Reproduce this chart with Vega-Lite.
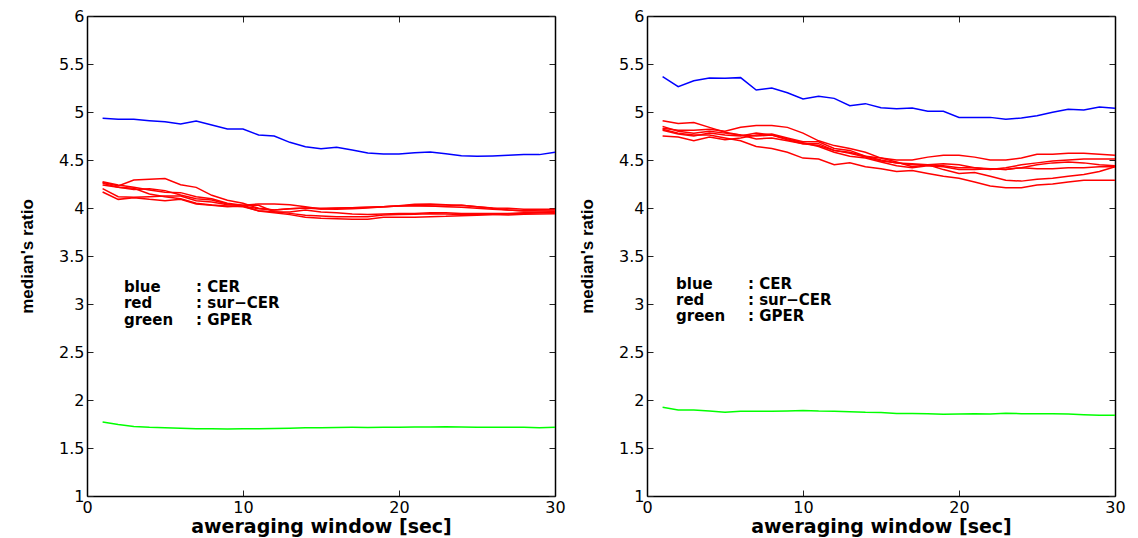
{
"$schema": "https://vega.github.io/schema/vega-lite/v6.json",
"padding": {"left": 18, "top": 8, "right": 5, "bottom": 2},
"spacing": 12,
"datasets": {
"lines": [
{"p":"L","s":"b","c":"CER","x":1,"y":4.934},{"p":"L","s":"b","c":"CER","x":2,"y":4.924},{"p":"L","s":"b","c":"CER","x":3,"y":4.924},{"p":"L","s":"b","c":"CER","x":4,"y":4.910},{"p":"L","s":"b","c":"CER","x":5,"y":4.899},{"p":"L","s":"b","c":"CER","x":6,"y":4.875},{"p":"L","s":"b","c":"CER","x":7,"y":4.906},{"p":"L","s":"b","c":"CER","x":8,"y":4.865},{"p":"L","s":"b","c":"CER","x":9,"y":4.823},{"p":"L","s":"b","c":"CER","x":10,"y":4.823},{"p":"L","s":"b","c":"CER","x":11,"y":4.760},{"p":"L","s":"b","c":"CER","x":12,"y":4.750},{"p":"L","s":"b","c":"CER","x":13,"y":4.684},{"p":"L","s":"b","c":"CER","x":14,"y":4.639},{"p":"L","s":"b","c":"CER","x":15,"y":4.618},{"p":"L","s":"b","c":"CER","x":16,"y":4.632},{"p":"L","s":"b","c":"CER","x":17,"y":4.604},{"p":"L","s":"b","c":"CER","x":18,"y":4.573},{"p":"L","s":"b","c":"CER","x":19,"y":4.562},{"p":"L","s":"b","c":"CER","x":20,"y":4.562},{"p":"L","s":"b","c":"CER","x":21,"y":4.576},{"p":"L","s":"b","c":"CER","x":22,"y":4.583},{"p":"L","s":"b","c":"CER","x":23,"y":4.566},{"p":"L","s":"b","c":"CER","x":24,"y":4.545},{"p":"L","s":"b","c":"CER","x":25,"y":4.538},{"p":"L","s":"b","c":"CER","x":26,"y":4.542},{"p":"L","s":"b","c":"CER","x":27,"y":4.549},{"p":"L","s":"b","c":"CER","x":28,"y":4.556},{"p":"L","s":"b","c":"CER","x":29,"y":4.556},{"p":"L","s":"b","c":"CER","x":30,"y":4.580},
{"p":"L","s":"g","c":"GPER","x":1,"y":1.770},{"p":"L","s":"g","c":"GPER","x":2,"y":1.745},{"p":"L","s":"g","c":"GPER","x":3,"y":1.725},{"p":"L","s":"g","c":"GPER","x":4,"y":1.715},{"p":"L","s":"g","c":"GPER","x":5,"y":1.710},{"p":"L","s":"g","c":"GPER","x":6,"y":1.705},{"p":"L","s":"g","c":"GPER","x":7,"y":1.700},{"p":"L","s":"g","c":"GPER","x":8,"y":1.700},{"p":"L","s":"g","c":"GPER","x":9,"y":1.698},{"p":"L","s":"g","c":"GPER","x":10,"y":1.700},{"p":"L","s":"g","c":"GPER","x":11,"y":1.700},{"p":"L","s":"g","c":"GPER","x":12,"y":1.702},{"p":"L","s":"g","c":"GPER","x":13,"y":1.705},{"p":"L","s":"g","c":"GPER","x":14,"y":1.710},{"p":"L","s":"g","c":"GPER","x":15,"y":1.712},{"p":"L","s":"g","c":"GPER","x":16,"y":1.714},{"p":"L","s":"g","c":"GPER","x":17,"y":1.715},{"p":"L","s":"g","c":"GPER","x":18,"y":1.714},{"p":"L","s":"g","c":"GPER","x":19,"y":1.715},{"p":"L","s":"g","c":"GPER","x":20,"y":1.716},{"p":"L","s":"g","c":"GPER","x":21,"y":1.718},{"p":"L","s":"g","c":"GPER","x":22,"y":1.720},{"p":"L","s":"g","c":"GPER","x":23,"y":1.722},{"p":"L","s":"g","c":"GPER","x":24,"y":1.720},{"p":"L","s":"g","c":"GPER","x":25,"y":1.716},{"p":"L","s":"g","c":"GPER","x":26,"y":1.716},{"p":"L","s":"g","c":"GPER","x":27,"y":1.716},{"p":"L","s":"g","c":"GPER","x":28,"y":1.715},{"p":"L","s":"g","c":"GPER","x":29,"y":1.712},{"p":"L","s":"g","c":"GPER","x":30,"y":1.715},
{"p":"L","s":"r1","c":"sur-CER","x":1,"y":4.267},{"p":"L","s":"r1","c":"sur-CER","x":2,"y":4.229},{"p":"L","s":"r1","c":"sur-CER","x":3,"y":4.292},{"p":"L","s":"r1","c":"sur-CER","x":4,"y":4.299},{"p":"L","s":"r1","c":"sur-CER","x":5,"y":4.306},{"p":"L","s":"r1","c":"sur-CER","x":6,"y":4.243},{"p":"L","s":"r1","c":"sur-CER","x":7,"y":4.215},{"p":"L","s":"r1","c":"sur-CER","x":8,"y":4.132},{"p":"L","s":"r1","c":"sur-CER","x":9,"y":4.080},{"p":"L","s":"r1","c":"sur-CER","x":10,"y":4.049},{"p":"L","s":"r1","c":"sur-CER","x":11,"y":3.997},{"p":"L","s":"r1","c":"sur-CER","x":12,"y":3.979},{"p":"L","s":"r1","c":"sur-CER","x":13,"y":3.993},{"p":"L","s":"r1","c":"sur-CER","x":14,"y":4.000},{"p":"L","s":"r1","c":"sur-CER","x":15,"y":3.990},{"p":"L","s":"r1","c":"sur-CER","x":16,"y":3.997},{"p":"L","s":"r1","c":"sur-CER","x":17,"y":4.003},{"p":"L","s":"r1","c":"sur-CER","x":18,"y":4.007},{"p":"L","s":"r1","c":"sur-CER","x":19,"y":4.014},{"p":"L","s":"r1","c":"sur-CER","x":20,"y":4.024},{"p":"L","s":"r1","c":"sur-CER","x":21,"y":4.038},{"p":"L","s":"r1","c":"sur-CER","x":22,"y":4.042},{"p":"L","s":"r1","c":"sur-CER","x":23,"y":4.035},{"p":"L","s":"r1","c":"sur-CER","x":24,"y":4.028},{"p":"L","s":"r1","c":"sur-CER","x":25,"y":4.014},{"p":"L","s":"r1","c":"sur-CER","x":26,"y":4.000},{"p":"L","s":"r1","c":"sur-CER","x":27,"y":3.997},{"p":"L","s":"r1","c":"sur-CER","x":28,"y":3.986},{"p":"L","s":"r1","c":"sur-CER","x":29,"y":3.986},{"p":"L","s":"r1","c":"sur-CER","x":30,"y":3.986},
{"p":"L","s":"r2","c":"sur-CER","x":1,"y":4.274},{"p":"L","s":"r2","c":"sur-CER","x":2,"y":4.240},{"p":"L","s":"r2","c":"sur-CER","x":3,"y":4.215},{"p":"L","s":"r2","c":"sur-CER","x":4,"y":4.188},{"p":"L","s":"r2","c":"sur-CER","x":5,"y":4.163},{"p":"L","s":"r2","c":"sur-CER","x":6,"y":4.160},{"p":"L","s":"r2","c":"sur-CER","x":7,"y":4.118},{"p":"L","s":"r2","c":"sur-CER","x":8,"y":4.097},{"p":"L","s":"r2","c":"sur-CER","x":9,"y":4.049},{"p":"L","s":"r2","c":"sur-CER","x":10,"y":4.028},{"p":"L","s":"r2","c":"sur-CER","x":11,"y":4.042},{"p":"L","s":"r2","c":"sur-CER","x":12,"y":4.042},{"p":"L","s":"r2","c":"sur-CER","x":13,"y":4.035},{"p":"L","s":"r2","c":"sur-CER","x":14,"y":4.014},{"p":"L","s":"r2","c":"sur-CER","x":15,"y":3.990},{"p":"L","s":"r2","c":"sur-CER","x":16,"y":3.986},{"p":"L","s":"r2","c":"sur-CER","x":17,"y":3.993},{"p":"L","s":"r2","c":"sur-CER","x":18,"y":4.000},{"p":"L","s":"r2","c":"sur-CER","x":19,"y":4.014},{"p":"L","s":"r2","c":"sur-CER","x":20,"y":4.021},{"p":"L","s":"r2","c":"sur-CER","x":21,"y":4.021},{"p":"L","s":"r2","c":"sur-CER","x":22,"y":4.021},{"p":"L","s":"r2","c":"sur-CER","x":23,"y":4.021},{"p":"L","s":"r2","c":"sur-CER","x":24,"y":4.028},{"p":"L","s":"r2","c":"sur-CER","x":25,"y":4.014},{"p":"L","s":"r2","c":"sur-CER","x":26,"y":3.997},{"p":"L","s":"r2","c":"sur-CER","x":27,"y":3.979},{"p":"L","s":"r2","c":"sur-CER","x":28,"y":3.969},{"p":"L","s":"r2","c":"sur-CER","x":29,"y":3.969},{"p":"L","s":"r2","c":"sur-CER","x":30,"y":3.965},
{"p":"L","s":"r3","c":"sur-CER","x":1,"y":4.257},{"p":"L","s":"r3","c":"sur-CER","x":2,"y":4.215},{"p":"L","s":"r3","c":"sur-CER","x":3,"y":4.194},{"p":"L","s":"r3","c":"sur-CER","x":4,"y":4.201},{"p":"L","s":"r3","c":"sur-CER","x":5,"y":4.181},{"p":"L","s":"r3","c":"sur-CER","x":6,"y":4.135},{"p":"L","s":"r3","c":"sur-CER","x":7,"y":4.097},{"p":"L","s":"r3","c":"sur-CER","x":8,"y":4.083},{"p":"L","s":"r3","c":"sur-CER","x":9,"y":4.042},{"p":"L","s":"r3","c":"sur-CER","x":10,"y":4.021},{"p":"L","s":"r3","c":"sur-CER","x":11,"y":3.969},{"p":"L","s":"r3","c":"sur-CER","x":12,"y":3.951},{"p":"L","s":"r3","c":"sur-CER","x":13,"y":3.931},{"p":"L","s":"r3","c":"sur-CER","x":14,"y":3.903},{"p":"L","s":"r3","c":"sur-CER","x":15,"y":3.892},{"p":"L","s":"r3","c":"sur-CER","x":16,"y":3.889},{"p":"L","s":"r3","c":"sur-CER","x":17,"y":3.882},{"p":"L","s":"r3","c":"sur-CER","x":18,"y":3.882},{"p":"L","s":"r3","c":"sur-CER","x":19,"y":3.903},{"p":"L","s":"r3","c":"sur-CER","x":20,"y":3.903},{"p":"L","s":"r3","c":"sur-CER","x":21,"y":3.903},{"p":"L","s":"r3","c":"sur-CER","x":22,"y":3.910},{"p":"L","s":"r3","c":"sur-CER","x":23,"y":3.913},{"p":"L","s":"r3","c":"sur-CER","x":24,"y":3.920},{"p":"L","s":"r3","c":"sur-CER","x":25,"y":3.924},{"p":"L","s":"r3","c":"sur-CER","x":26,"y":3.931},{"p":"L","s":"r3","c":"sur-CER","x":27,"y":3.938},{"p":"L","s":"r3","c":"sur-CER","x":28,"y":3.944},{"p":"L","s":"r3","c":"sur-CER","x":29,"y":3.951},{"p":"L","s":"r3","c":"sur-CER","x":30,"y":3.958},
{"p":"L","s":"r4","c":"sur-CER","x":1,"y":4.201},{"p":"L","s":"r4","c":"sur-CER","x":2,"y":4.118},{"p":"L","s":"r4","c":"sur-CER","x":3,"y":4.111},{"p":"L","s":"r4","c":"sur-CER","x":4,"y":4.118},{"p":"L","s":"r4","c":"sur-CER","x":5,"y":4.125},{"p":"L","s":"r4","c":"sur-CER","x":6,"y":4.125},{"p":"L","s":"r4","c":"sur-CER","x":7,"y":4.076},{"p":"L","s":"r4","c":"sur-CER","x":8,"y":4.063},{"p":"L","s":"r4","c":"sur-CER","x":9,"y":4.035},{"p":"L","s":"r4","c":"sur-CER","x":10,"y":4.028},{"p":"L","s":"r4","c":"sur-CER","x":11,"y":4.028},{"p":"L","s":"r4","c":"sur-CER","x":12,"y":3.962},{"p":"L","s":"r4","c":"sur-CER","x":13,"y":3.944},{"p":"L","s":"r4","c":"sur-CER","x":14,"y":3.924},{"p":"L","s":"r4","c":"sur-CER","x":15,"y":3.917},{"p":"L","s":"r4","c":"sur-CER","x":16,"y":3.910},{"p":"L","s":"r4","c":"sur-CER","x":17,"y":3.910},{"p":"L","s":"r4","c":"sur-CER","x":18,"y":3.910},{"p":"L","s":"r4","c":"sur-CER","x":19,"y":3.927},{"p":"L","s":"r4","c":"sur-CER","x":20,"y":3.931},{"p":"L","s":"r4","c":"sur-CER","x":21,"y":3.934},{"p":"L","s":"r4","c":"sur-CER","x":22,"y":3.941},{"p":"L","s":"r4","c":"sur-CER","x":23,"y":3.938},{"p":"L","s":"r4","c":"sur-CER","x":24,"y":3.931},{"p":"L","s":"r4","c":"sur-CER","x":25,"y":3.931},{"p":"L","s":"r4","c":"sur-CER","x":26,"y":3.931},{"p":"L","s":"r4","c":"sur-CER","x":27,"y":3.927},{"p":"L","s":"r4","c":"sur-CER","x":28,"y":3.934},{"p":"L","s":"r4","c":"sur-CER","x":29,"y":3.938},{"p":"L","s":"r4","c":"sur-CER","x":30,"y":3.941},
{"p":"L","s":"r5","c":"sur-CER","x":1,"y":4.167},{"p":"L","s":"r5","c":"sur-CER","x":2,"y":4.090},{"p":"L","s":"r5","c":"sur-CER","x":3,"y":4.108},{"p":"L","s":"r5","c":"sur-CER","x":4,"y":4.090},{"p":"L","s":"r5","c":"sur-CER","x":5,"y":4.076},{"p":"L","s":"r5","c":"sur-CER","x":6,"y":4.090},{"p":"L","s":"r5","c":"sur-CER","x":7,"y":4.042},{"p":"L","s":"r5","c":"sur-CER","x":8,"y":4.028},{"p":"L","s":"r5","c":"sur-CER","x":9,"y":4.014},{"p":"L","s":"r5","c":"sur-CER","x":10,"y":4.021},{"p":"L","s":"r5","c":"sur-CER","x":11,"y":3.993},{"p":"L","s":"r5","c":"sur-CER","x":12,"y":3.979},{"p":"L","s":"r5","c":"sur-CER","x":13,"y":3.993},{"p":"L","s":"r5","c":"sur-CER","x":14,"y":4.000},{"p":"L","s":"r5","c":"sur-CER","x":15,"y":3.997},{"p":"L","s":"r5","c":"sur-CER","x":16,"y":4.000},{"p":"L","s":"r5","c":"sur-CER","x":17,"y":4.003},{"p":"L","s":"r5","c":"sur-CER","x":18,"y":4.007},{"p":"L","s":"r5","c":"sur-CER","x":19,"y":4.014},{"p":"L","s":"r5","c":"sur-CER","x":20,"y":4.021},{"p":"L","s":"r5","c":"sur-CER","x":21,"y":4.028},{"p":"L","s":"r5","c":"sur-CER","x":22,"y":4.021},{"p":"L","s":"r5","c":"sur-CER","x":23,"y":4.014},{"p":"L","s":"r5","c":"sur-CER","x":24,"y":4.007},{"p":"L","s":"r5","c":"sur-CER","x":25,"y":3.997},{"p":"L","s":"r5","c":"sur-CER","x":26,"y":3.986},{"p":"L","s":"r5","c":"sur-CER","x":27,"y":3.979},{"p":"L","s":"r5","c":"sur-CER","x":28,"y":3.972},{"p":"L","s":"r5","c":"sur-CER","x":29,"y":3.979},{"p":"L","s":"r5","c":"sur-CER","x":30,"y":3.979},
{"p":"L","s":"r6","c":"sur-CER","x":1,"y":4.240},{"p":"L","s":"r6","c":"sur-CER","x":2,"y":4.215},{"p":"L","s":"r6","c":"sur-CER","x":3,"y":4.205},{"p":"L","s":"r6","c":"sur-CER","x":4,"y":4.146},{"p":"L","s":"r6","c":"sur-CER","x":5,"y":4.118},{"p":"L","s":"r6","c":"sur-CER","x":6,"y":4.097},{"p":"L","s":"r6","c":"sur-CER","x":7,"y":4.049},{"p":"L","s":"r6","c":"sur-CER","x":8,"y":4.031},{"p":"L","s":"r6","c":"sur-CER","x":9,"y":4.021},{"p":"L","s":"r6","c":"sur-CER","x":10,"y":4.014},{"p":"L","s":"r6","c":"sur-CER","x":11,"y":3.972},{"p":"L","s":"r6","c":"sur-CER","x":12,"y":3.962},{"p":"L","s":"r6","c":"sur-CER","x":13,"y":3.958},{"p":"L","s":"r6","c":"sur-CER","x":14,"y":3.979},{"p":"L","s":"r6","c":"sur-CER","x":15,"y":3.958},{"p":"L","s":"r6","c":"sur-CER","x":16,"y":3.951},{"p":"L","s":"r6","c":"sur-CER","x":17,"y":3.938},{"p":"L","s":"r6","c":"sur-CER","x":18,"y":3.931},{"p":"L","s":"r6","c":"sur-CER","x":19,"y":3.938},{"p":"L","s":"r6","c":"sur-CER","x":20,"y":3.944},{"p":"L","s":"r6","c":"sur-CER","x":21,"y":3.944},{"p":"L","s":"r6","c":"sur-CER","x":22,"y":3.951},{"p":"L","s":"r6","c":"sur-CER","x":23,"y":3.951},{"p":"L","s":"r6","c":"sur-CER","x":24,"y":3.944},{"p":"L","s":"r6","c":"sur-CER","x":25,"y":3.944},{"p":"L","s":"r6","c":"sur-CER","x":26,"y":3.944},{"p":"L","s":"r6","c":"sur-CER","x":27,"y":3.944},{"p":"L","s":"r6","c":"sur-CER","x":28,"y":3.951},{"p":"L","s":"r6","c":"sur-CER","x":29,"y":3.955},{"p":"L","s":"r6","c":"sur-CER","x":30,"y":3.951},
{"p":"R","s":"b","c":"CER","x":1,"y":5.368},{"p":"R","s":"b","c":"CER","x":2,"y":5.264},{"p":"R","s":"b","c":"CER","x":3,"y":5.326},{"p":"R","s":"b","c":"CER","x":4,"y":5.354},{"p":"R","s":"b","c":"CER","x":5,"y":5.351},{"p":"R","s":"b","c":"CER","x":6,"y":5.358},{"p":"R","s":"b","c":"CER","x":7,"y":5.229},{"p":"R","s":"b","c":"CER","x":8,"y":5.250},{"p":"R","s":"b","c":"CER","x":9,"y":5.201},{"p":"R","s":"b","c":"CER","x":10,"y":5.135},{"p":"R","s":"b","c":"CER","x":11,"y":5.163},{"p":"R","s":"b","c":"CER","x":12,"y":5.142},{"p":"R","s":"b","c":"CER","x":13,"y":5.066},{"p":"R","s":"b","c":"CER","x":14,"y":5.087},{"p":"R","s":"b","c":"CER","x":15,"y":5.045},{"p":"R","s":"b","c":"CER","x":16,"y":5.035},{"p":"R","s":"b","c":"CER","x":17,"y":5.042},{"p":"R","s":"b","c":"CER","x":18,"y":5.007},{"p":"R","s":"b","c":"CER","x":19,"y":5.007},{"p":"R","s":"b","c":"CER","x":20,"y":4.944},{"p":"R","s":"b","c":"CER","x":21,"y":4.944},{"p":"R","s":"b","c":"CER","x":22,"y":4.944},{"p":"R","s":"b","c":"CER","x":23,"y":4.924},{"p":"R","s":"b","c":"CER","x":24,"y":4.937},{"p":"R","s":"b","c":"CER","x":25,"y":4.962},{"p":"R","s":"b","c":"CER","x":26,"y":4.997},{"p":"R","s":"b","c":"CER","x":27,"y":5.028},{"p":"R","s":"b","c":"CER","x":28,"y":5.021},{"p":"R","s":"b","c":"CER","x":29,"y":5.052},{"p":"R","s":"b","c":"CER","x":30,"y":5.038},
{"p":"R","s":"g","c":"GPER","x":1,"y":1.924},{"p":"R","s":"g","c":"GPER","x":2,"y":1.896},{"p":"R","s":"g","c":"GPER","x":3,"y":1.896},{"p":"R","s":"g","c":"GPER","x":4,"y":1.885},{"p":"R","s":"g","c":"GPER","x":5,"y":1.872},{"p":"R","s":"g","c":"GPER","x":6,"y":1.882},{"p":"R","s":"g","c":"GPER","x":7,"y":1.883},{"p":"R","s":"g","c":"GPER","x":8,"y":1.882},{"p":"R","s":"g","c":"GPER","x":9,"y":1.885},{"p":"R","s":"g","c":"GPER","x":10,"y":1.890},{"p":"R","s":"g","c":"GPER","x":11,"y":1.885},{"p":"R","s":"g","c":"GPER","x":12,"y":1.884},{"p":"R","s":"g","c":"GPER","x":13,"y":1.878},{"p":"R","s":"g","c":"GPER","x":14,"y":1.872},{"p":"R","s":"g","c":"GPER","x":15,"y":1.870},{"p":"R","s":"g","c":"GPER","x":16,"y":1.860},{"p":"R","s":"g","c":"GPER","x":17,"y":1.860},{"p":"R","s":"g","c":"GPER","x":18,"y":1.857},{"p":"R","s":"g","c":"GPER","x":19,"y":1.851},{"p":"R","s":"g","c":"GPER","x":20,"y":1.853},{"p":"R","s":"g","c":"GPER","x":21,"y":1.856},{"p":"R","s":"g","c":"GPER","x":22,"y":1.853},{"p":"R","s":"g","c":"GPER","x":23,"y":1.862},{"p":"R","s":"g","c":"GPER","x":24,"y":1.858},{"p":"R","s":"g","c":"GPER","x":25,"y":1.856},{"p":"R","s":"g","c":"GPER","x":26,"y":1.858},{"p":"R","s":"g","c":"GPER","x":27,"y":1.853},{"p":"R","s":"g","c":"GPER","x":28,"y":1.847},{"p":"R","s":"g","c":"GPER","x":29,"y":1.842},{"p":"R","s":"g","c":"GPER","x":30,"y":1.840},
{"p":"R","s":"r1","c":"sur-CER","x":1,"y":4.91},{"p":"R","s":"r1","c":"sur-CER","x":2,"y":4.88},{"p":"R","s":"r1","c":"sur-CER","x":3,"y":4.89},{"p":"R","s":"r1","c":"sur-CER","x":4,"y":4.84},{"p":"R","s":"r1","c":"sur-CER","x":5,"y":4.79},{"p":"R","s":"r1","c":"sur-CER","x":6,"y":4.76},{"p":"R","s":"r1","c":"sur-CER","x":7,"y":4.75},{"p":"R","s":"r1","c":"sur-CER","x":8,"y":4.76},{"p":"R","s":"r1","c":"sur-CER","x":9,"y":4.71},{"p":"R","s":"r1","c":"sur-CER","x":10,"y":4.67},{"p":"R","s":"r1","c":"sur-CER","x":11,"y":4.67},{"p":"R","s":"r1","c":"sur-CER","x":12,"y":4.60},{"p":"R","s":"r1","c":"sur-CER","x":13,"y":4.57},{"p":"R","s":"r1","c":"sur-CER","x":14,"y":4.53},{"p":"R","s":"r1","c":"sur-CER","x":15,"y":4.49},{"p":"R","s":"r1","c":"sur-CER","x":16,"y":4.47},{"p":"R","s":"r1","c":"sur-CER","x":17,"y":4.45},{"p":"R","s":"r1","c":"sur-CER","x":18,"y":4.45},{"p":"R","s":"r1","c":"sur-CER","x":19,"y":4.44},{"p":"R","s":"r1","c":"sur-CER","x":20,"y":4.42},{"p":"R","s":"r1","c":"sur-CER","x":21,"y":4.42},{"p":"R","s":"r1","c":"sur-CER","x":22,"y":4.41},{"p":"R","s":"r1","c":"sur-CER","x":23,"y":4.40},{"p":"R","s":"r1","c":"sur-CER","x":24,"y":4.42},{"p":"R","s":"r1","c":"sur-CER","x":25,"y":4.45},{"p":"R","s":"r1","c":"sur-CER","x":26,"y":4.47},{"p":"R","s":"r1","c":"sur-CER","x":27,"y":4.48},{"p":"R","s":"r1","c":"sur-CER","x":28,"y":4.47},{"p":"R","s":"r1","c":"sur-CER","x":29,"y":4.45},{"p":"R","s":"r1","c":"sur-CER","x":30,"y":4.44},
{"p":"R","s":"r2","c":"sur-CER","x":1,"y":4.83},{"p":"R","s":"r2","c":"sur-CER","x":2,"y":4.81},{"p":"R","s":"r2","c":"sur-CER","x":3,"y":4.81},{"p":"R","s":"r2","c":"sur-CER","x":4,"y":4.82},{"p":"R","s":"r2","c":"sur-CER","x":5,"y":4.80},{"p":"R","s":"r2","c":"sur-CER","x":6,"y":4.84},{"p":"R","s":"r2","c":"sur-CER","x":7,"y":4.86},{"p":"R","s":"r2","c":"sur-CER","x":8,"y":4.86},{"p":"R","s":"r2","c":"sur-CER","x":9,"y":4.84},{"p":"R","s":"r2","c":"sur-CER","x":10,"y":4.78},{"p":"R","s":"r2","c":"sur-CER","x":11,"y":4.70},{"p":"R","s":"r2","c":"sur-CER","x":12,"y":4.65},{"p":"R","s":"r2","c":"sur-CER","x":13,"y":4.62},{"p":"R","s":"r2","c":"sur-CER","x":14,"y":4.58},{"p":"R","s":"r2","c":"sur-CER","x":15,"y":4.52},{"p":"R","s":"r2","c":"sur-CER","x":16,"y":4.50},{"p":"R","s":"r2","c":"sur-CER","x":17,"y":4.50},{"p":"R","s":"r2","c":"sur-CER","x":18,"y":4.53},{"p":"R","s":"r2","c":"sur-CER","x":19,"y":4.55},{"p":"R","s":"r2","c":"sur-CER","x":20,"y":4.55},{"p":"R","s":"r2","c":"sur-CER","x":21,"y":4.53},{"p":"R","s":"r2","c":"sur-CER","x":22,"y":4.50},{"p":"R","s":"r2","c":"sur-CER","x":23,"y":4.50},{"p":"R","s":"r2","c":"sur-CER","x":24,"y":4.52},{"p":"R","s":"r2","c":"sur-CER","x":25,"y":4.56},{"p":"R","s":"r2","c":"sur-CER","x":26,"y":4.56},{"p":"R","s":"r2","c":"sur-CER","x":27,"y":4.57},{"p":"R","s":"r2","c":"sur-CER","x":28,"y":4.57},{"p":"R","s":"r2","c":"sur-CER","x":29,"y":4.56},{"p":"R","s":"r2","c":"sur-CER","x":30,"y":4.55},
{"p":"R","s":"r3","c":"sur-CER","x":1,"y":4.85},{"p":"R","s":"r3","c":"sur-CER","x":2,"y":4.80},{"p":"R","s":"r3","c":"sur-CER","x":3,"y":4.78},{"p":"R","s":"r3","c":"sur-CER","x":4,"y":4.80},{"p":"R","s":"r3","c":"sur-CER","x":5,"y":4.78},{"p":"R","s":"r3","c":"sur-CER","x":6,"y":4.76},{"p":"R","s":"r3","c":"sur-CER","x":7,"y":4.72},{"p":"R","s":"r3","c":"sur-CER","x":8,"y":4.73},{"p":"R","s":"r3","c":"sur-CER","x":9,"y":4.70},{"p":"R","s":"r3","c":"sur-CER","x":10,"y":4.67},{"p":"R","s":"r3","c":"sur-CER","x":11,"y":4.65},{"p":"R","s":"r3","c":"sur-CER","x":12,"y":4.60},{"p":"R","s":"r3","c":"sur-CER","x":13,"y":4.58},{"p":"R","s":"r3","c":"sur-CER","x":14,"y":4.54},{"p":"R","s":"r3","c":"sur-CER","x":15,"y":4.50},{"p":"R","s":"r3","c":"sur-CER","x":16,"y":4.47},{"p":"R","s":"r3","c":"sur-CER","x":17,"y":4.46},{"p":"R","s":"r3","c":"sur-CER","x":18,"y":4.45},{"p":"R","s":"r3","c":"sur-CER","x":19,"y":4.46},{"p":"R","s":"r3","c":"sur-CER","x":20,"y":4.45},{"p":"R","s":"r3","c":"sur-CER","x":21,"y":4.42},{"p":"R","s":"r3","c":"sur-CER","x":22,"y":4.40},{"p":"R","s":"r3","c":"sur-CER","x":23,"y":4.42},{"p":"R","s":"r3","c":"sur-CER","x":24,"y":4.45},{"p":"R","s":"r3","c":"sur-CER","x":25,"y":4.47},{"p":"R","s":"r3","c":"sur-CER","x":26,"y":4.49},{"p":"R","s":"r3","c":"sur-CER","x":27,"y":4.50},{"p":"R","s":"r3","c":"sur-CER","x":28,"y":4.51},{"p":"R","s":"r3","c":"sur-CER","x":29,"y":4.51},{"p":"R","s":"r3","c":"sur-CER","x":30,"y":4.51},
{"p":"R","s":"r4","c":"sur-CER","x":1,"y":4.75},{"p":"R","s":"r4","c":"sur-CER","x":2,"y":4.74},{"p":"R","s":"r4","c":"sur-CER","x":3,"y":4.70},{"p":"R","s":"r4","c":"sur-CER","x":4,"y":4.74},{"p":"R","s":"r4","c":"sur-CER","x":5,"y":4.71},{"p":"R","s":"r4","c":"sur-CER","x":6,"y":4.73},{"p":"R","s":"r4","c":"sur-CER","x":7,"y":4.76},{"p":"R","s":"r4","c":"sur-CER","x":8,"y":4.77},{"p":"R","s":"r4","c":"sur-CER","x":9,"y":4.73},{"p":"R","s":"r4","c":"sur-CER","x":10,"y":4.69},{"p":"R","s":"r4","c":"sur-CER","x":11,"y":4.69},{"p":"R","s":"r4","c":"sur-CER","x":12,"y":4.62},{"p":"R","s":"r4","c":"sur-CER","x":13,"y":4.60},{"p":"R","s":"r4","c":"sur-CER","x":14,"y":4.54},{"p":"R","s":"r4","c":"sur-CER","x":15,"y":4.52},{"p":"R","s":"r4","c":"sur-CER","x":16,"y":4.48},{"p":"R","s":"r4","c":"sur-CER","x":17,"y":4.43},{"p":"R","s":"r4","c":"sur-CER","x":18,"y":4.45},{"p":"R","s":"r4","c":"sur-CER","x":19,"y":4.40},{"p":"R","s":"r4","c":"sur-CER","x":20,"y":4.36},{"p":"R","s":"r4","c":"sur-CER","x":21,"y":4.37},{"p":"R","s":"r4","c":"sur-CER","x":22,"y":4.33},{"p":"R","s":"r4","c":"sur-CER","x":23,"y":4.29},{"p":"R","s":"r4","c":"sur-CER","x":24,"y":4.28},{"p":"R","s":"r4","c":"sur-CER","x":25,"y":4.30},{"p":"R","s":"r4","c":"sur-CER","x":26,"y":4.31},{"p":"R","s":"r4","c":"sur-CER","x":27,"y":4.33},{"p":"R","s":"r4","c":"sur-CER","x":28,"y":4.35},{"p":"R","s":"r4","c":"sur-CER","x":29,"y":4.38},{"p":"R","s":"r4","c":"sur-CER","x":30,"y":4.43},
{"p":"R","s":"r5","c":"sur-CER","x":1,"y":4.82},{"p":"R","s":"r5","c":"sur-CER","x":2,"y":4.78},{"p":"R","s":"r5","c":"sur-CER","x":3,"y":4.76},{"p":"R","s":"r5","c":"sur-CER","x":4,"y":4.76},{"p":"R","s":"r5","c":"sur-CER","x":5,"y":4.73},{"p":"R","s":"r5","c":"sur-CER","x":6,"y":4.70},{"p":"R","s":"r5","c":"sur-CER","x":7,"y":4.64},{"p":"R","s":"r5","c":"sur-CER","x":8,"y":4.62},{"p":"R","s":"r5","c":"sur-CER","x":9,"y":4.58},{"p":"R","s":"r5","c":"sur-CER","x":10,"y":4.52},{"p":"R","s":"r5","c":"sur-CER","x":11,"y":4.51},{"p":"R","s":"r5","c":"sur-CER","x":12,"y":4.45},{"p":"R","s":"r5","c":"sur-CER","x":13,"y":4.47},{"p":"R","s":"r5","c":"sur-CER","x":14,"y":4.43},{"p":"R","s":"r5","c":"sur-CER","x":15,"y":4.41},{"p":"R","s":"r5","c":"sur-CER","x":16,"y":4.38},{"p":"R","s":"r5","c":"sur-CER","x":17,"y":4.39},{"p":"R","s":"r5","c":"sur-CER","x":18,"y":4.36},{"p":"R","s":"r5","c":"sur-CER","x":19,"y":4.33},{"p":"R","s":"r5","c":"sur-CER","x":20,"y":4.31},{"p":"R","s":"r5","c":"sur-CER","x":21,"y":4.27},{"p":"R","s":"r5","c":"sur-CER","x":22,"y":4.23},{"p":"R","s":"r5","c":"sur-CER","x":23,"y":4.21},{"p":"R","s":"r5","c":"sur-CER","x":24,"y":4.21},{"p":"R","s":"r5","c":"sur-CER","x":25,"y":4.24},{"p":"R","s":"r5","c":"sur-CER","x":26,"y":4.25},{"p":"R","s":"r5","c":"sur-CER","x":27,"y":4.27},{"p":"R","s":"r5","c":"sur-CER","x":28,"y":4.29},{"p":"R","s":"r5","c":"sur-CER","x":29,"y":4.29},{"p":"R","s":"r5","c":"sur-CER","x":30,"y":4.29},
{"p":"R","s":"r6","c":"sur-CER","x":1,"y":4.81},{"p":"R","s":"r6","c":"sur-CER","x":2,"y":4.77},{"p":"R","s":"r6","c":"sur-CER","x":3,"y":4.75},{"p":"R","s":"r6","c":"sur-CER","x":4,"y":4.78},{"p":"R","s":"r6","c":"sur-CER","x":5,"y":4.76},{"p":"R","s":"r6","c":"sur-CER","x":6,"y":4.75},{"p":"R","s":"r6","c":"sur-CER","x":7,"y":4.78},{"p":"R","s":"r6","c":"sur-CER","x":8,"y":4.76},{"p":"R","s":"r6","c":"sur-CER","x":9,"y":4.72},{"p":"R","s":"r6","c":"sur-CER","x":10,"y":4.68},{"p":"R","s":"r6","c":"sur-CER","x":11,"y":4.64},{"p":"R","s":"r6","c":"sur-CER","x":12,"y":4.58},{"p":"R","s":"r6","c":"sur-CER","x":13,"y":4.54},{"p":"R","s":"r6","c":"sur-CER","x":14,"y":4.52},{"p":"R","s":"r6","c":"sur-CER","x":15,"y":4.48},{"p":"R","s":"r6","c":"sur-CER","x":16,"y":4.44},{"p":"R","s":"r6","c":"sur-CER","x":17,"y":4.42},{"p":"R","s":"r6","c":"sur-CER","x":18,"y":4.44},{"p":"R","s":"r6","c":"sur-CER","x":19,"y":4.43},{"p":"R","s":"r6","c":"sur-CER","x":20,"y":4.40},{"p":"R","s":"r6","c":"sur-CER","x":21,"y":4.40},{"p":"R","s":"r6","c":"sur-CER","x":22,"y":4.41},{"p":"R","s":"r6","c":"sur-CER","x":23,"y":4.40},{"p":"R","s":"r6","c":"sur-CER","x":24,"y":4.42},{"p":"R","s":"r6","c":"sur-CER","x":25,"y":4.41},{"p":"R","s":"r6","c":"sur-CER","x":26,"y":4.41},{"p":"R","s":"r6","c":"sur-CER","x":27,"y":4.42},{"p":"R","s":"r6","c":"sur-CER","x":28,"y":4.42},{"p":"R","s":"r6","c":"sur-CER","x":29,"y":4.43},{"p":"R","s":"r6","c":"sur-CER","x":30,"y":4.43}
],
"notes": [
{"p":"L","x":2.37,"y":3.177,"t":"blue"},{"p":"L","x":2.37,"y":3.010,"t":"red"},{"p":"L","x":2.37,"y":2.833,"t":"green"},
{"p":"L","x":6.99,"y":3.177,"t":": CER"},{"p":"L","x":6.99,"y":3.010,"t":": sur−CER"},{"p":"L","x":6.99,"y":2.833,"t":": GPER"},
{"p":"R","x":1.86,"y":3.208,"t":"blue"},{"p":"R","x":1.86,"y":3.042,"t":"red"},{"p":"R","x":1.86,"y":2.875,"t":"green"},
{"p":"R","x":6.47,"y":3.208,"t":": CER"},{"p":"R","x":6.47,"y":3.042,"t":": sur−CER"},{"p":"R","x":6.47,"y":2.875,"t":": GPER"}
]
},
"hconcat": [
{
"width": 468, "height": 480,
"layer": [
{"data": {"name": "lines"}, "transform": [{"filter": "datum.p === 'L'"}],
 "mark": {"type": "line", "strokeWidth": 1.5},
 "encoding": {
  "x": {"field": "x", "type": "quantitative", "scale": {"domain": [0, 30], "nice": false, "zero": false},
        "axis": {"orient": "bottom", "values": [0, 10, 20, 30], "title": "aweraging window [sec]"}},
  "y": {"field": "y", "type": "quantitative", "scale": {"domain": [1, 6], "nice": false, "zero": false},
        "axis": {"orient": "left", "values": [1, 1.5, 2, 2.5, 3, 3.5, 4, 4.5, 5, 5.5, 6], "labelExpr": "datum.value + ''", "title": "median's ratio", "titleFont": "Liberation Sans", "titleFontSize": 17, "titleFontWeight": "bold", "titlePadding": 22}},
  "color": {"field": "c", "type": "nominal", "scale": {"domain": ["CER", "sur-CER", "GPER"], "range": ["#0000ff", "#ff0000", "#00ff00"]}, "legend": null},
  "detail": {"field": "s"}
 }},
{"data": {"name": "lines"}, "transform": [{"filter": "datum.p === 'L'"}],
 "mark": {"type": "line", "opacity": 0},
 "encoding": {
  "x": {"field": "x", "type": "quantitative", "axis": {"orient": "top", "values": [0, 10, 20, 30], "labels": false, "title": null}},
  "y": {"field": "y", "type": "quantitative", "axis": {"orient": "right", "values": [1, 1.5, 2, 2.5, 3, 3.5, 4, 4.5, 5, 5.5, 6], "labels": false, "title": null}},
  "detail": {"field": "s"}
 }},
{"data": {"name": "notes"}, "transform": [{"filter": "datum.p === 'L'"}],
 "mark": {"type": "text", "align": "left", "baseline": "middle", "font": "DejaVu Sans", "fontWeight": "bold", "fontSize": 15, "color": "#000"},
 "encoding": {
  "x": {"field": "x", "type": "quantitative", "axis": null},
  "y": {"field": "y", "type": "quantitative", "axis": null},
  "text": {"field": "t"}
 }}
],
"resolve": {"axis": {"x": "independent", "y": "independent"}}
},
{
"width": 468, "height": 480,
"layer": [
{"data": {"name": "lines"}, "transform": [{"filter": "datum.p === 'R'"}],
 "mark": {"type": "line", "strokeWidth": 1.5},
 "encoding": {
  "x": {"field": "x", "type": "quantitative", "scale": {"domain": [0, 30], "nice": false, "zero": false},
        "axis": {"orient": "bottom", "values": [0, 10, 20, 30], "title": "aweraging window [sec]"}},
  "y": {"field": "y", "type": "quantitative", "scale": {"domain": [1, 6], "nice": false, "zero": false},
        "axis": {"orient": "left", "values": [1, 1.5, 2, 2.5, 3, 3.5, 4, 4.5, 5, 5.5, 6], "labelExpr": "datum.value + ''", "title": "median's ratio", "titleFont": "Liberation Sans", "titleFontSize": 17, "titleFontWeight": "bold", "titlePadding": 22}},
  "color": {"field": "c", "type": "nominal", "scale": {"domain": ["CER", "sur-CER", "GPER"], "range": ["#0000ff", "#ff0000", "#00ff00"]}, "legend": null},
  "detail": {"field": "s"}
 }},
{"data": {"name": "lines"}, "transform": [{"filter": "datum.p === 'R'"}],
 "mark": {"type": "line", "opacity": 0},
 "encoding": {
  "x": {"field": "x", "type": "quantitative", "axis": {"orient": "top", "values": [0, 10, 20, 30], "labels": false, "title": null}},
  "y": {"field": "y", "type": "quantitative", "axis": {"orient": "right", "values": [1, 1.5, 2, 2.5, 3, 3.5, 4, 4.5, 5, 5.5, 6], "labels": false, "title": null}},
  "detail": {"field": "s"}
 }},
{"data": {"name": "notes"}, "transform": [{"filter": "datum.p === 'R'"}],
 "mark": {"type": "text", "align": "left", "baseline": "middle", "font": "DejaVu Sans", "fontWeight": "bold", "fontSize": 15, "color": "#000"},
 "encoding": {
  "x": {"field": "x", "type": "quantitative", "axis": null},
  "y": {"field": "y", "type": "quantitative", "axis": null},
  "text": {"field": "t"}
 }}
],
"resolve": {"axis": {"x": "independent", "y": "independent"}}
}
],
"config": {
 "view": {"stroke": null},
 "axis": {"grid": false, "labelFont": "DejaVu Sans", "labelFontSize": 16, "labelColor": "#000", "tickColor": "#222", "tickSize": -6, "tickWidth": 1, "domainColor": "#000", "domainWidth": 1.5, "labelPadding": 9, "labelFlush": false, "labelOverlap": false, "titleFont": "DejaVu Sans", "titleFontWeight": "bold", "titleFontSize": 19, "titleColor": "#000", "titlePadding": 2}
}
}
